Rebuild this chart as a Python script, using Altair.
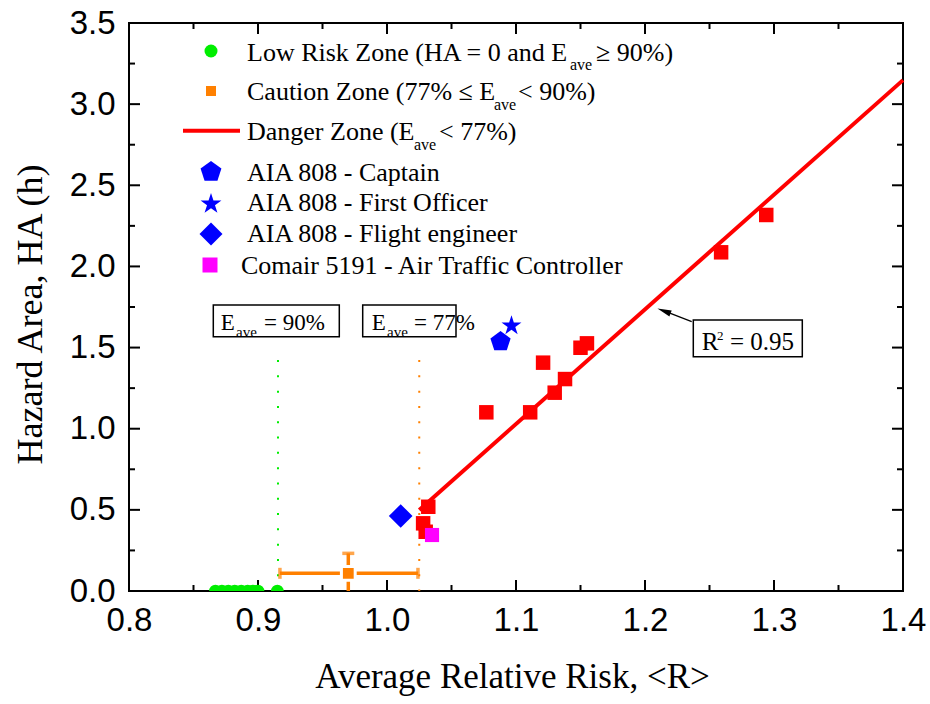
import altair as alt
import pandas as pd

# ---------------- data ----------------
danger_r = [1.028, 1.030, 1.032, 1.077, 1.111, 1.121, 1.130, 1.138, 1.150, 1.155, 1.259, 1.294]
danger_ha = [0.417, 0.365, 0.519, 1.101, 1.101, 1.407, 1.222, 1.306, 1.499, 1.526, 2.087, 2.317]

low_r = [0.867, 0.872, 0.877, 0.882, 0.887, 0.892, 0.896, 0.900, 0.915]
low_ha = [0, 0, 0, 0, 0, 0, 0, 0, 0]

caution_r = [0.970]
caution_ha = [0.109]
caution_r_lo = [0.917]
caution_r_hi = [1.024]
caution_ha_lo = [-0.014]
caution_ha_hi = [0.232]

fit_r = [1.025, 1.400]
fit_ha = [0.499, 3.148]

captain_r, captain_ha = [1.088], [1.536]
officer_r, officer_ha = [1.0965], [1.635]
engineer_r, engineer_ha = [1.0106], [0.462]
atc_r, atc_ha = [1.0349], [0.345]

threshold_low_r = [0.9155]
threshold_caution_r = [1.025]
threshold_top = [1.423]

x_major = [0.8, 0.9, 1.0, 1.1, 1.2, 1.3, 1.4]
x_minor = [0.85, 0.95, 1.05, 1.15, 1.25, 1.35]
y_major = [0.0, 0.5, 1.0, 1.5, 2.0, 2.5, 3.0, 3.5]
y_minor = [0.25, 0.75, 1.25, 1.75, 2.25, 2.75, 3.25]

x_title = "Average Relative Risk, <R>"
y_title = "Hazard Area, HA (h)"

# ---------------- layout / style ----------------
W, H = 774, 568
SERIF = "Liberation Serif"
SANS = "Liberation Sans"
GREEN = "#00EE00"
ORANGE = "#FF8000"
RED = "#FF0000"
BLUE = "#0000FF"
MAGENTA = "#FF00FF"
PENT = "M0,-1L0.951,-0.309L0.588,0.809L-0.588,0.809L-0.951,-0.309Z"
STAR = ("M0,-1L0.2245,-0.309L0.951,-0.309L0.363,0.118L0.588,0.809L0,0.382"
        "L-0.588,0.809L-0.363,0.118L-0.951,-0.309L-0.2245,-0.309Z")
ARROW = "M0,-1L0.45,1L-0.45,1Z"

xs = alt.Scale(domain=[0.8, 1.4], nice=False, zero=False)
ys = alt.Scale(domain=[0, 3.5], nice=False, zero=False)


def X(f):
    return alt.X(f, type="quantitative", scale=xs, axis=None)


def Y(f):
    return alt.Y(f, type="quantitative", scale=ys, axis=None)


ONE = pd.DataFrame({"k": [0]})


def txt(s, x, y, size, font=SERIF, align="left", baseline="alphabetic"):
    return alt.Chart(ONE).mark_text(
        text=s, align=align, baseline=baseline, font=font, fontSize=size, color="black"
    ).encode(x=alt.value(x), y=alt.value(y))


def sym(shape, color, size, x, y, **kw):
    return alt.Chart(ONE).mark_point(
        shape=shape, filled=True, color=color, size=size, opacity=1, strokeWidth=0, **kw
    ).encode(x=alt.value(x), y=alt.value(y))


def box(x1, x2, y1, y2):
    return alt.Chart(ONE).mark_rect(fill="white", stroke="black", strokeWidth=1.5).encode(
        x=alt.value(x1), x2=alt.value(x2), y=alt.value(y1), y2=alt.value(y2)
    )


layers = []

# ---- axes (labels and titles only; ticks drawn as rules) ----
axis_df = pd.DataFrame({"r": danger_r, "ha": danger_ha})
axes = alt.Chart(axis_df).mark_point(opacity=0, size=1).encode(
    x=alt.X("r:Q", scale=xs, axis=alt.Axis(
        values=x_major, format=".1f", title=x_title, ticks=False, domain=False, grid=False,
        labelFont=SANS, labelFontSize=33, labelColor="black", labelPadding=13,
        labelFlush=False, labelOverlap=False, labelBound=False,
        titleFont=SERIF, titleFontSize=35, titleFontWeight="normal", titleColor="black",
        titleBaseline="alphabetic", titleY=96, titleX=383)),
    y=alt.Y("ha:Q", scale=ys, axis=alt.Axis(
        values=y_major, format=".1f", title=y_title, ticks=False, domain=False, grid=False,
        labelFont=SANS, labelFontSize=33, labelColor="black", labelPadding=14,
        labelFlush=False, labelOverlap=False, labelBound=False,
        titleFont=SERIF, titleFontSize=36, titleFontWeight="normal", titleColor="black",
        titleBaseline="alphabetic", titleX=-88, titleY=291, titleAngle=-90)),
)
layers.append(axes)

# ---- tick marks (inward, all four sides) ----
for vals, ln in ((x_major, 11), (x_minor, 6)):
    d = alt.Chart(pd.DataFrame({"v": vals})).mark_rule(color="black", strokeWidth=2)
    layers.append(d.encode(x=X("v"), y=alt.value(H), y2=alt.value(H - ln)))
    layers.append(d.encode(x=X("v"), y=alt.value(0), y2=alt.value(ln)))
for vals, ln in ((y_major, 11), (y_minor, 6)):
    d = alt.Chart(pd.DataFrame({"v": vals})).mark_rule(color="black", strokeWidth=2)
    layers.append(d.encode(y=Y("v"), x=alt.value(0), x2=alt.value(ln)))
    layers.append(d.encode(y=Y("v"), x=alt.value(W), x2=alt.value(W - ln)))

# ---- threshold dotted lines ----
layers.append(
    alt.Chart(pd.DataFrame({"r": threshold_low_r, "top": threshold_top}))
    .mark_rule(color=GREEN, strokeWidth=2, strokeDash=[2, 13.3])
    .encode(x=X("r"), y=Y("top"), y2=alt.value(H))
)
layers.append(
    alt.Chart(pd.DataFrame({"r": threshold_caution_r, "top": threshold_top}))
    .mark_rule(color=ORANGE, strokeWidth=2, strokeDash=[2, 13.3])
    .encode(x=X("r"), y=Y("top"), y2=alt.value(H))
)

# ---- low risk points ----
layers.append(
    alt.Chart(pd.DataFrame({"r": low_r, "ha": low_ha}))
    .mark_point(shape="circle", filled=True, color=GREEN, size=160, opacity=1, strokeWidth=0, clip=True)
    .encode(x=X("r"), y=Y("ha"))
)

# ---- caution point with error bars ----
cdf = pd.DataFrame({"r": caution_r, "ha": caution_ha, "rlo": caution_r_lo, "rhi": caution_r_hi,
                    "hlo": caution_ha_lo, "hhi": caution_ha_hi})
cb = alt.Chart(cdf)
layers.append(cb.mark_rule(color=ORANGE, strokeWidth=3.5).encode(x=X("rlo"), x2="rhi", y=Y("ha")))
layers.append(cb.mark_rule(color=ORANGE, strokeWidth=3.5, clip=True).encode(x=X("r"), y=Y("hlo"), y2="hhi"))
layers.append(cb.mark_tick(color=ORANGE, orient="vertical", size=11, thickness=3.5).encode(x=X("rlo"), y=Y("ha")))
layers.append(cb.mark_tick(color=ORANGE, orient="vertical", size=11, thickness=3.5).encode(x=X("rhi"), y=Y("ha")))
layers.append(cb.mark_tick(color=ORANGE, orient="horizontal", size=12, thickness=3.5).encode(x=X("r"), y=Y("hhi")))
layers.append(cb.mark_point(shape="square", filled=True, color=ORANGE, size=190, opacity=1,
                            stroke="white", strokeWidth=3).encode(x=X("r"), y=Y("ha")))

# ---- danger zone points and fit ----
layers.append(
    alt.Chart(pd.DataFrame({"r": danger_r, "ha": danger_ha}))
    .mark_point(shape="square", filled=True, color=RED, size=210, opacity=1, strokeWidth=0)
    .encode(x=X("r"), y=Y("ha"))
)
layers.append(
    alt.Chart(pd.DataFrame({"r": fit_r, "ha": fit_ha}))
    .mark_line(color=RED, strokeWidth=4)
    .encode(x=X("r"), y=Y("ha"))
)

# ---- accident crew points ----
for rr, hh, shp, col, sz in ((captain_r, captain_ha, PENT, BLUE, 450),
                             (officer_r, officer_ha, STAR, BLUE, 440),
                             (engineer_r, engineer_ha, "diamond", BLUE, 560),
                             (atc_r, atc_ha, "square", MAGENTA, 200)):
    layers.append(
        alt.Chart(pd.DataFrame({"r": rr, "ha": hh}))
        .mark_point(shape=shp, filled=True, color=col, size=sz, opacity=1, strokeWidth=0)
        .encode(x=X("r"), y=Y("ha"))
    )

# ---- legend ----
LS = 26
SUB = 16
layers.append(sym("circle", GREEN, 169, 82, 28))
layers.append(sym("square", ORANGE, 100, 82, 68))
layers.append(alt.Chart(ONE).mark_rule(color=RED, strokeWidth=4).encode(
    x=alt.value(54), x2=alt.value(111), y=alt.value(107.7)))
layers.append(sym(PENT, BLUE, 480, 82, 149))
layers.append(sym(STAR, BLUE, 480, 82, 181))
layers.append(sym("diamond", BLUE, 530, 82, 211))
layers.append(sym("square", MAGENTA, 225, 81, 242))

layers.append(txt("Low Risk Zone (HA = 0 and E", 118, 37.7, LS))
layers.append(txt("ave", 441, 47, SUB))
layers.append(txt("\u2265 90%)", 467, 37.7, LS))

layers.append(txt("Caution Zone (77% \u2264 E", 118, 77.2, LS))
layers.append(txt("ave", 365, 86.5, SUB))
layers.append(txt("< 90%)", 389, 77.2, LS))

layers.append(txt("Danger Zone (E", 118, 117.2, LS))
layers.append(txt("ave", 285, 126.5, SUB))
layers.append(txt("< 77%)", 310, 117.2, LS))

layers.append(txt("AIA 808 - Captain", 118, 157.7, LS))
layers.append(txt("AIA 808 - First Officer", 118, 187.7, LS))
layers.append(txt("AIA 808 - Flight engineer", 118, 219.3, LS))
layers.append(txt("Comair 5191 - Air Traffic Controller", 112, 251, LS))

# ---- threshold labels ----
layers.append(box(84.3, 210.3, 282, 313.7))
layers.append(txt("E", 91.7, 307, 23))
layers.append(txt("ave", 107, 314, 15))
layers.append(txt("= 90%", 135, 307, 23))

layers.append(box(233.7, 327, 282, 313.7))
layers.append(txt("E", 242.7, 307, 23))
layers.append(txt("ave", 258, 314, 15))
layers.append(txt("= 77%", 285, 307, 23))

# ---- R^2 annotation ----
layers.append(alt.Chart(ONE).mark_rule(color="black", strokeWidth=1.3).encode(
    x=alt.value(562.7), y=alt.value(298.7), x2=alt.value(537), y2=alt.value(288.7)))
layers.append(sym(ARROW, "black", 196, 535, 288, angle=291))
layers.append(box(564.3, 673.3, 297, 333.7))
layers.append(txt("R", 572.7, 327, 25))
layers.append(txt("2", 588, 317, 13))
layers.append(txt("= 0.95", 601, 327, 25))

chart = alt.layer(*layers).resolve_axis(
    x="independent", y="independent"
).properties(
    width=W, height=H,
    autosize=alt.AutoSizeParams(type="none"),
    padding={"left": 129, "top": 23, "right": 27, "bottom": 113},
).configure_view(stroke="black", strokeWidth=2)

chart.save("out.html", embed_options={"renderer": "svg", "actions": False})
